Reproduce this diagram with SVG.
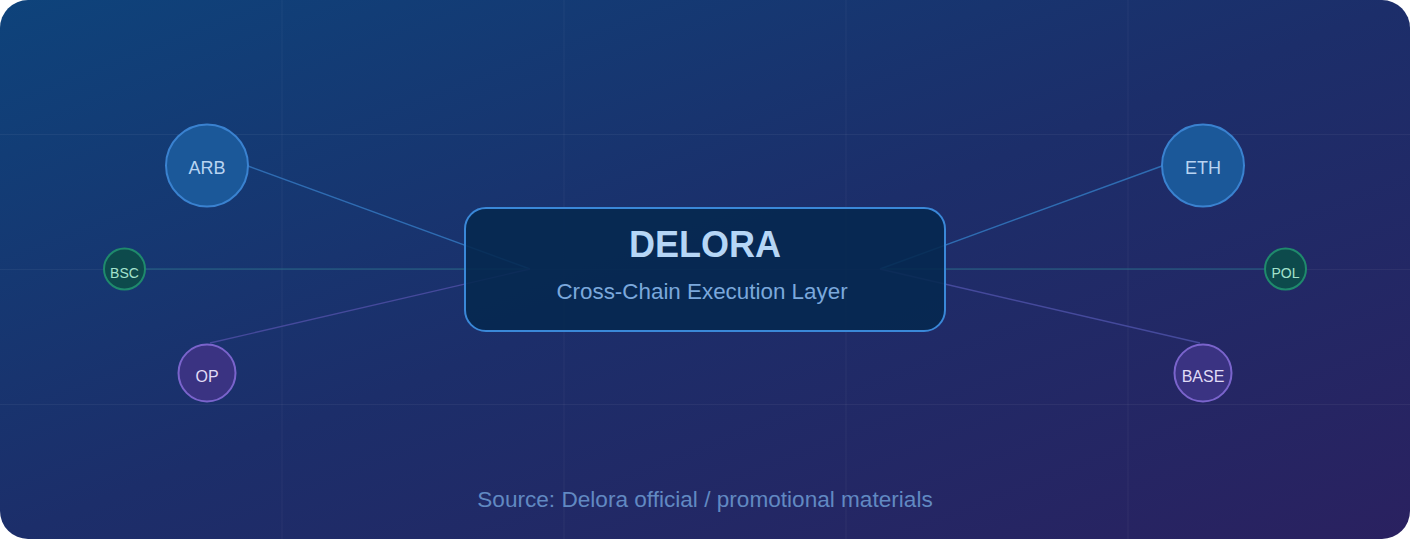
<svg xmlns="http://www.w3.org/2000/svg" width="1410" height="560" viewBox="0 0 1410 560">
  <defs>
    <linearGradient id="bg" x1="0" y1="0" x2="1" y2="1">
      <stop offset="0" stop-color="#0e437b"/>
      <stop offset="0.5" stop-color="#1c2e6a"/>
      <stop offset="1" stop-color="#2a2160"/>
    </linearGradient>
    <style>
      text { font-family: "Liberation Sans", Arial, sans-serif; text-anchor: middle; }
      .grid { stroke: #ffffff; stroke-opacity: 0.05; stroke-width: 1; }
      .blue circle { fill: #1b5899; stroke: #3a82d0; stroke-width: 2; }
      .blue text { fill: #b8d4f2; font-size: 18px; }
      .green circle { fill: #0d4a4c; stroke: #1f8a6c; stroke-width: 2; }
      .green text { fill: #a3e2cc; font-size: 14px; }
      .purple circle { fill: #3a3382; stroke: #7a64cc; stroke-width: 2; }
      .purple text { fill: #e0dcf6; font-size: 16px; }
      .c-blue { stroke: #2f6cb2; stroke-width: 1.4; }
      .c-green { stroke: #266785; stroke-width: 1.2; }
      .c-purple { stroke: #454a9c; stroke-width: 1.4; }
    </style>
  </defs>
  <rect x="0" y="0" width="1410" height="539" rx="28" fill="url(#bg)"/>
  <g id="grid">
    <line class="grid" x1="282" y1="0" x2="282" y2="539"/>
    <line class="grid" x1="564" y1="0" x2="564" y2="539"/>
    <line class="grid" x1="846" y1="0" x2="846" y2="539"/>
    <line class="grid" x1="1128" y1="0" x2="1128" y2="539"/>
    <line class="grid" x1="0" y1="134.5" x2="1410" y2="134.5"/>
    <line class="grid" x1="0" y1="269.5" x2="1410" y2="269.5"/>
    <line class="grid" x1="0" y1="404.5" x2="1410" y2="404.5"/>
  </g>
  <g id="connectors" fill="none">
    <line class="c-blue" x1="248" y1="166" x2="530" y2="269"/>
    <line class="c-green" x1="145" y1="269" x2="530" y2="269"/>
    <line class="c-purple" x1="210" y1="343" x2="530" y2="269"/>
    <line class="c-blue" x1="1162" y1="166" x2="880" y2="269"/>
    <line class="c-green" x1="1265" y1="269" x2="880" y2="269"/>
    <line class="c-purple" x1="1200" y1="343" x2="880" y2="269"/>
  </g>
  <g id="node-delora">
    <rect x="465" y="208" width="480" height="123" rx="21" fill="#04284f" fill-opacity="0.88" stroke="#3a88d8" stroke-width="2"/>
    <text x="705" y="257" font-size="36" font-weight="bold" fill="#b6d6f6">DELORA</text>
    <text x="702" y="299" font-size="22.4" fill="#7ba8dc">Cross-Chain Execution Layer</text>
  </g>
  <g id="node-arb" class="blue">
    <circle cx="207" cy="165.5" r="41"/>
    <text x="207" y="173.5">ARB</text>
  </g>
  <g id="node-eth" class="blue">
    <circle cx="1203" cy="165.5" r="41"/>
    <text x="1203" y="173.5">ETH</text>
  </g>
  <g id="node-bsc" class="green">
    <circle cx="124.5" cy="269" r="20.5"/>
    <text x="124.5" y="278">BSC</text>
  </g>
  <g id="node-pol" class="green">
    <circle cx="1285.5" cy="269" r="20.5"/>
    <text x="1285.5" y="278">POL</text>
  </g>
  <g id="node-op" class="purple">
    <circle cx="207" cy="373" r="28.5"/>
    <text x="207" y="381.5">OP</text>
  </g>
  <g id="node-base" class="purple">
    <circle cx="1203" cy="373" r="28.5"/>
    <text x="1203" y="381.5">BASE</text>
  </g>
  <text x="705" y="507" font-size="22.6" fill="#6189c2">Source: Delora official / promotional materials</text>
</svg>
